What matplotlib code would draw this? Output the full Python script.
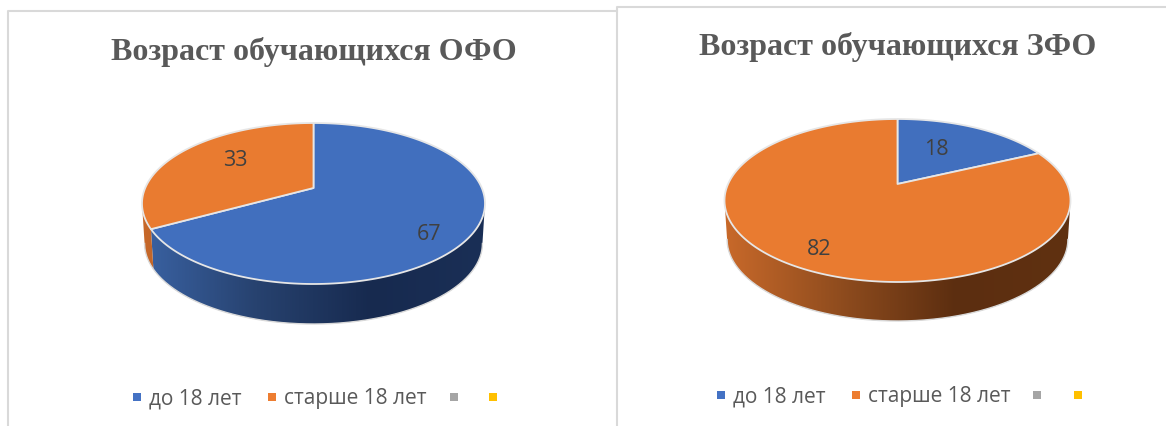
import numpy as np
import matplotlib
matplotlib.use("Agg")
import matplotlib.pyplot as plt
from matplotlib.colors import LinearSegmentedColormap
from matplotlib.patches import Polygon, Rectangle

# Data
categories = ["до 18 лет", "старше 18 лет", "", ""]
ofo_values = [67, 33]
zfo_values = [18, 82]
ofo_title = "Возраст обучающихся ОФО"
zfo_title = "Возраст обучающихся ЗФО"

colors = ["#4472C4", "#ED7D31", "#A5A5A5", "#FFC000"]
face_colors = ["#416FBE", "#E97B30"]
wall_colors = [["#3A62A3", "#27426F", "#172A4F", "#1A2F56"],
               ["#C8692A", "#8F4C1E", "#5C2E10", "#603111"]]

W, H = 1166, 427
fig = plt.figure(figsize=(W / 100, H / 100), dpi=100)
ax = fig.add_axes([0, 0, 1, 1])


def draw_pie(values, cx, vy, top, bottom, rx, depth, label_offsets):
    # pie seen in perspective: unit disc goes through a projective map
    up, down = vy - top, bottom - vy
    k = (down - up) / (down + up)
    b = up * (1 + k)
    a = rx * np.sqrt(1 - k ** 2)

    def project(theta):
        u, v = np.sin(theta), np.cos(theta)
        w = 1 + k * v
        return cx + a * u / w, vy - b * v / w

    total = sum(values)
    start = 0
    slices = []
    for val in values:
        end = start + val / total * 2 * np.pi
        slices.append((start, end))
        start = end

    # only the front of the rim shows, widest points are at cos(theta) = -k
    front_start = np.arccos(-k)
    front_end = 2 * np.pi - front_start

    # side wall with left-to-right shading
    for i, (s, e) in enumerate(slices):
        s2, e2 = max(s, front_start), min(e, front_end)
        if s2 >= e2:
            continue
        th = np.linspace(s2, e2, 200)
        x, y = project(th)
        xb = cx + (x - cx) * 0.985
        yb = y + depth
        pts = np.r_[np.c_[x, y], np.c_[xb, yb][::-1]]
        wall = Polygon(pts, closed=True, facecolor="none", edgecolor="none", transform=ax.transData)
        ax.add_patch(wall)
        cmap = LinearSegmentedColormap.from_list("wall", wall_colors[i])
        im = ax.imshow(np.linspace(0, 1, 256).reshape(1, -1), cmap=cmap, aspect="auto", zorder=2,
                       extent=[cx - rx, cx + rx, bottom + depth + 2, vy])
        im.set_clip_path(wall)

    # outline of the wall
    th = np.linspace(front_start, front_end, 200)
    x, y = project(th)
    ax.plot(cx + (x - cx) * 0.985, y + depth, color="#d9d9d9", lw=1, zorder=2)

    # top face
    for i, (s, e) in enumerate(slices):
        th = np.linspace(s, e, 200)
        x, y = project(th)
        pts = np.r_[[[cx, vy]], np.c_[x, y]]
        ax.add_patch(Polygon(pts, closed=True, facecolor=face_colors[i], edgecolor="#e6e6e6",
                             lw=1.3, joinstyle="round", zorder=3))

    # data labels
    for (s, e), val, (dx, dy) in zip(slices, values, label_offsets):
        mid = (s + e) / 2
        u, v = 0.7 * np.sin(mid), 0.7 * np.cos(mid)
        w = 1 + k * v
        ax.text(cx + a * u / w + dx, vy - b * v / w + dy, str(val), fontsize=15.5,
                family="Open Sans", color="#404040", ha="center", va="center", zorder=4)


def draw_legend(marker_xs, text_xs, y):
    for mx, name, col in zip(marker_xs, categories, colors):
        ax.add_patch(Rectangle((mx, y - 4), 8, 8, facecolor=col, edgecolor="none", zorder=3))
    for tx, name in zip(text_xs, categories):
        ax.text(tx, y + 1, name, fontsize=15, family="Open Sans", color="#595959", ha="left", va="center")


# frames of the two pasted charts
ax.plot([8, 8, 617], [427, 12, 12], color="#d9d9d9", lw=1.5)
ax.plot([617, 617, 1166], [427, 8, 8], color="#d9d9d9", lw=1.5)

ax.text(313.5, 52, ofo_title, fontsize=23, family="Liberation Serif", weight="bold",
        color="#595959", ha="center", va="center")
ax.text(897.5, 47, zfo_title, fontsize=23, family="Liberation Serif", weight="bold",
        color="#595959", ha="center", va="center")

draw_pie(ofo_values, 313.5, 189, 124, 285, 171.5, 40, [(6.5, 16), (16.5, -3)])
draw_pie(zfo_values, 897.5, 185, 120, 283, 173, 39, [(-18, 6), (-6.5, 12)])

draw_legend([133, 268, 450, 489], [149, 284], 398)
draw_legend([717, 852, 1033, 1074], [733, 868], 396)

ax.set_xlim(0, W)
ax.set_ylim(H, 0)
ax.axis("off")

fig.savefig("out.png", dpi=100, facecolor="white")
